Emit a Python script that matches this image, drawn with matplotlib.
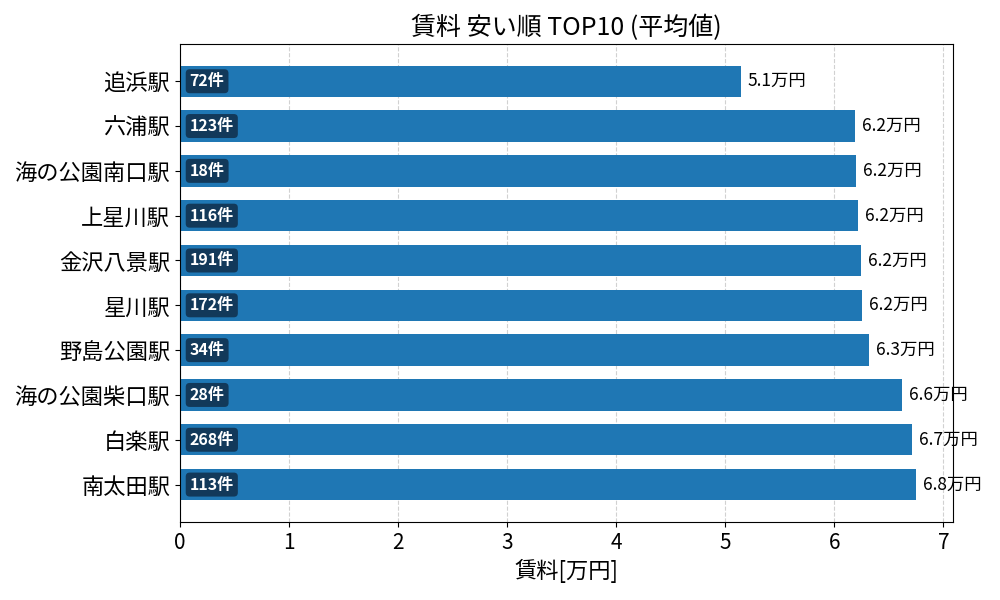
import matplotlib
matplotlib.use('Agg')
import matplotlib.pyplot as plt

plt.rcParams['font.family'] = ['Noto Sans CJK JP', 'DejaVu Sans']

stations = ['追浜駅', '六浦駅', '海の公園南口駅', '上星川駅', '金沢八景駅',
            '星川駅', '野島公園駅', '海の公園柴口駅', '白楽駅', '南太田駅']
rent = [5.14, 6.19, 6.20, 6.22, 6.24, 6.25, 6.32, 6.62, 6.71, 6.75]
counts = [72, 123, 18, 116, 191, 172, 34, 28, 268, 113]

fig, ax = plt.subplots(figsize=(10, 6), dpi=100)
y = list(range(len(stations)))
bars = ax.barh(y, rent, height=0.7, color='#1f77b4', zorder=2)
ax.invert_yaxis()
ax.set_yticks(y)
ax.set_yticklabels(stations, fontsize=16)
ax.tick_params(axis='x', labelsize=15)
ax.set_xlim(0, max(rent) * 1.05)
ax.grid(axis='x', linestyle='--', color='#cccccc', alpha=0.9, zorder=0)
ax.set_axisbelow(True)

for yi, v, c in zip(y, rent, counts):
    ax.annotate(f'{v:.1f}万円', xy=(v, yi), xytext=(5, 0), textcoords='offset points',
                va='center', ha='left', fontsize=12.5, zorder=5)
    ax.annotate(f'{c}件', xy=(0, yi), xytext=(7, 0), textcoords='offset points',
                va='center', ha='left', fontsize=11.5, color='white', fontweight='bold',
                bbox=dict(boxstyle='round,pad=0.25', fc='#12395a', ec='none'), zorder=5)

ax.set_title('賃料 安い順 TOP10 (平均値)', fontsize=18)
ax.set_xlabel('賃料[万円]', fontsize=16)
fig.subplots_adjust(left=0.18, right=0.953, top=0.927, bottom=0.13)
fig.savefig('out.png')
